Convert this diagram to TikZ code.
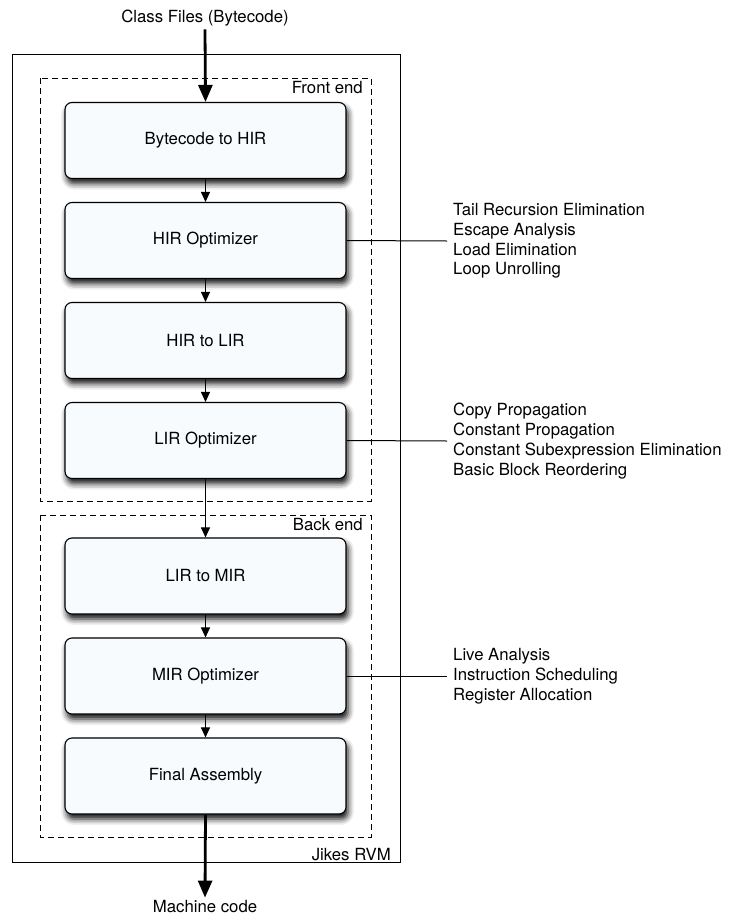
\documentclass[tikz,border=0pt]{standalone}
\usepackage{fontspec}
\setmainfont{TeX Gyre Heros}
\usetikzlibrary{arrows.meta,shadows.blur}
\definecolor{boxfill}{HTML}{F7FBFD}
\tikzset{
  stagebox/.style={draw=black, line width=1.1pt, fill=boxfill, rounded corners=7pt,
    minimum width=281pt, minimum height=76pt, inner sep=0pt,
    blur shadow={shadow xshift=2pt, shadow yshift=-5pt, shadow blur radius=6pt, shadow opacity=95}},
  flow/.style={line width=1pt, -{Triangle[length=10pt,width=9pt]}},
  bigflow/.style={line width=2.8pt, -{Triangle[length=17pt,width=14pt]}},
  frame/.style={line width=1pt},
  group/.style={line width=1pt, dash pattern=on 6pt off 4pt},
  plain/.style={inner sep=0pt},
  optlist/.style={anchor=west, align=left, inner xsep=6pt, inner ysep=0pt},
  sideline/.style={line width=1pt}
}
\begin{document}
\begin{tikzpicture}[x=1pt,y=-1pt,font=\fontsize{16.75}{19.8}\selectfont]
\useasboundingbox (0,0) rectangle (730,919);
% frames
\draw[frame] (12,54) rectangle (400,862);
\draw[group] (40,78) rectangle (371,501);
\draw[group] (40,515) rectangle (371,837);
\node[plain, anchor=east] (fe) at (363,88) {Front end};
\node[plain, anchor=east] (be) at (363,525) {Back end};
\node[plain, anchor=east] (jr) at (391,855) {Jikes RVM};
% stages
\node[stagebox] (b1) at (205.5,140.5) {Bytecode to HIR};
\node[stagebox] (b2) at (205.5,240.5) {HIR Optimizer};
\node[stagebox] (b3) at (205.5,340.5) {HIR to LIR};
\node[stagebox] (b4) at (205.5,440.5) {LIR Optimizer};
\node[stagebox] (b5) at (205.5,576) {LIR to MIR};
\node[stagebox] (b6) at (205.5,676) {MIR Optimizer};
\node[stagebox] (b7) at (205.5,776) {Final Assembly};
% in/out
\node[inner sep=3pt] (cf) at (205,18) {Class Files (Bytecode)};
\node[inner sep=3pt] (mc) at (205,907) {Machine code};
\draw[bigflow] (cf.south) -- (b1.north);
\draw[bigflow] (b7.south) -- (mc.north);
% flow
\draw[flow] (b1) -- (b2);
\draw[flow] (b2) -- (b3);
\draw[flow] (b3) -- (b4);
\draw[flow] (b4) -- (b5);
\draw[flow] (b5) -- (b6);
\draw[flow] (b6) -- (b7);
% optimisation lists
\node[optlist] (l1) at (447,241) {Tail Recursion Elimination\\Escape Analysis\\Load Elimination\\Loop Unrolling};
\node[optlist] (l2) at (447,441) {Copy Propagation\\Constant Propagation\\Constant Subexpression Elimination\\Basic Block Reordering};
\node[optlist] (l3) at (447,676) {Live Analysis\\Instruction Scheduling\\Register Allocation};
\draw[sideline] (b2.east) -- (l1.west);
\draw[sideline] (b4.east) -- (l2.west);
\draw[sideline] (b6.east) -- (l3.west);
\end{tikzpicture}
\end{document}
